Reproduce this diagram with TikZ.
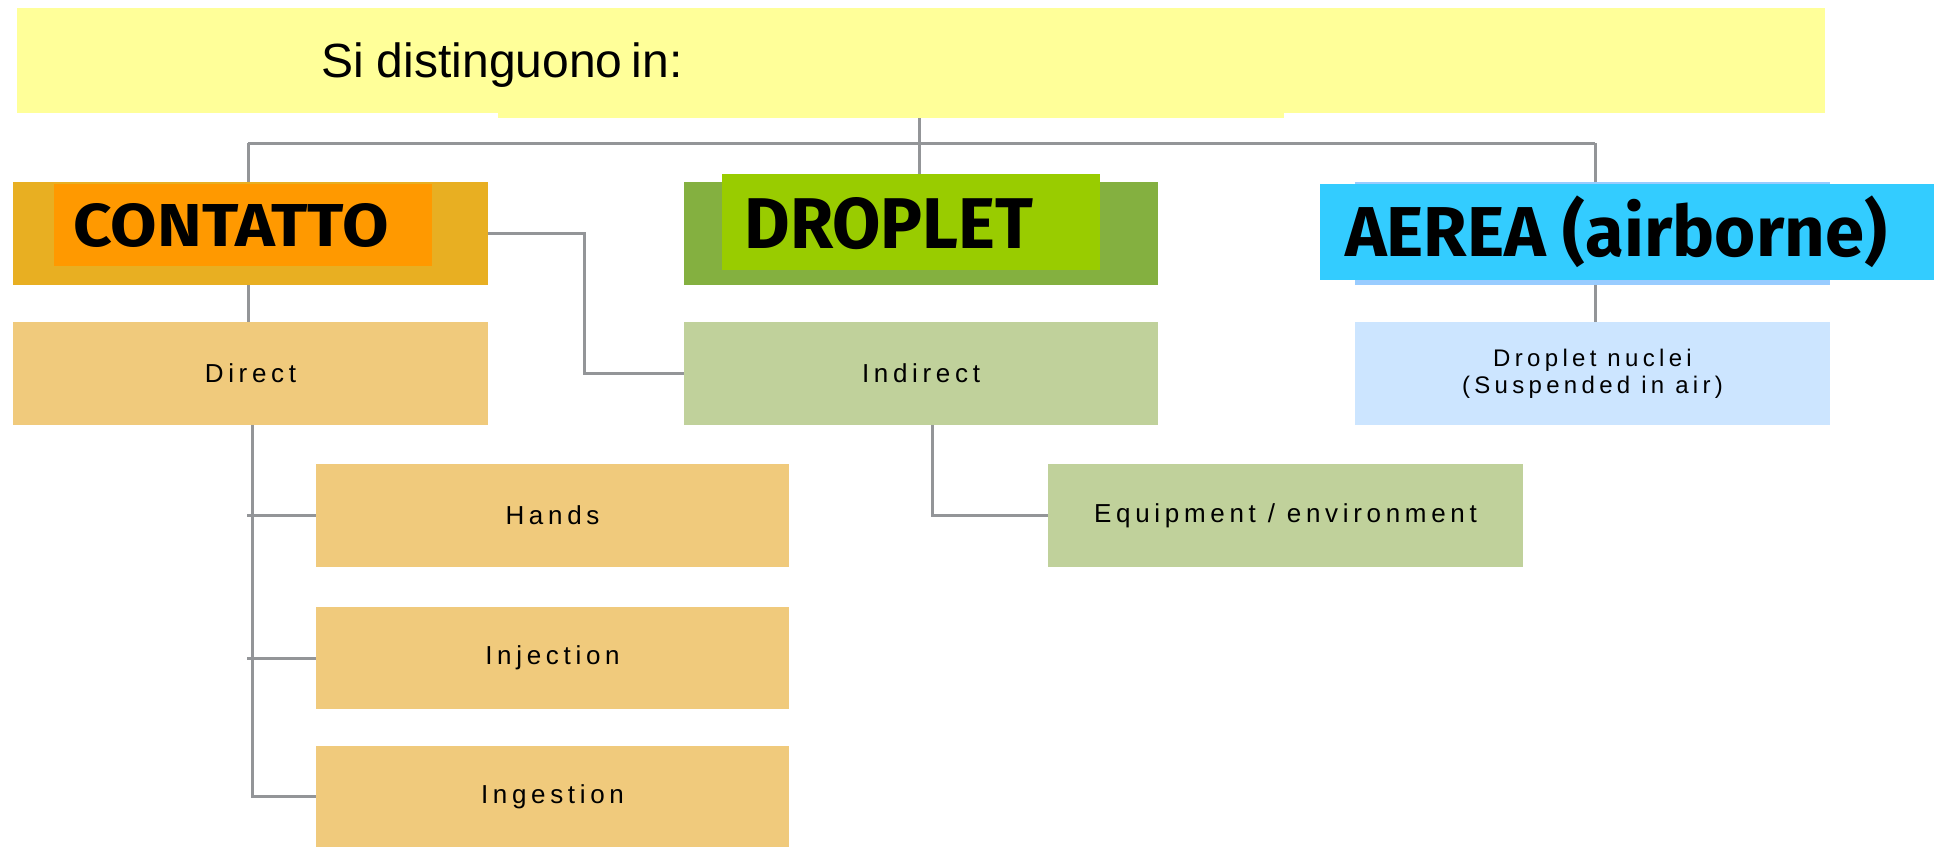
\documentclass[tikz,border=0pt]{standalone}
\usepackage{fontspec}
\setmainfont{Liberation Sans}
\newfontfamily\headfont{Fira Sans}
\newfontfamily\smallfont{Liberation Sans}[LetterSpace=18]
\usetikzlibrary{calc}
\definecolor{banner}{HTML}{FFFF99}
\definecolor{contout}{HTML}{E8AF22}
\definecolor{contin}{HTML}{FF9900}
\definecolor{dropout}{HTML}{84B040}
\definecolor{dropin}{HTML}{99CC00}
\definecolor{aerback}{HTML}{99CCFF}
\definecolor{aerfront}{HTML}{33CCFF}
\definecolor{tan}{HTML}{F0CA7C}
\definecolor{sage}{HTML}{C0D19B}
\definecolor{pale}{HTML}{CCE5FF}
\definecolor{conn}{HTML}{939598}
\begin{document}
\begin{tikzpicture}[x=1pt,y=-1pt,
  box/.style={rectangle,inner sep=0pt,outer sep=0pt,draw=none,align=center,
    font=\smallfont\fontsize{26}{29}\selectfont},
  head/.style={inner sep=0pt,outer sep=0pt},
  link/.style={draw=conn,line width=3pt}]
\useasboundingbox (0,0) rectangle (1934,847);
% banner
\node[box,fill=banner,minimum width=786pt,minimum height=10pt] (bannerext) at (891,113) {};
\node[box,fill=banner,minimum width=1808pt,minimum height=105pt] (banner) at (921,60.5) {};
\node[head,anchor=base west,font=\fontsize{48}{58}\selectfont] (title) at (321,77) {Si distinguono\hspace{-4pt} in:};
% header boxes
\node[box,fill=contout,minimum width=475pt,minimum height=103pt] (contOut) at (250.5,233.5) {};
\node[box,fill=contin,minimum width=378pt,minimum height=82pt] (contIn) at (243,225) {};
\node[box,fill=dropout,minimum width=474pt,minimum height=103pt] (dropOut) at (921,233.5) {};
\node[box,fill=dropin,minimum width=378pt,minimum height=96pt] (dropIn) at (911,222) {};
\node[box,fill=aerback,minimum width=475pt,minimum height=103pt] (aerBack) at (1592.5,233.5) {};
\node[box,fill=aerfront,minimum width=614pt,minimum height=96pt] (aerFront) at (1627,232) {};
\node[head,anchor=base] (contText) at (231,246) {\resizebox{315pt}{43pt}{\headfont\bfseries CONTATTO}};
\node[head,anchor=base] (dropText) at (889,248) {\resizebox{289pt}{51pt}{\headfont\bfseries DROPLET}};
\node[head,anchor=base] (aerText) at (1616,256) {\resizebox{542pt}{!}{\headfont\bfseries\fontsize{70}{80}\selectfont AEREA (airborne)}};
% second level
\node[box,fill=tan,minimum width=475pt,minimum height=103pt] (direct) at (250.5,373.5) {Direct};
\node[box,fill=sage,minimum width=474pt,minimum height=103pt] (indirect) at (921,373.5) {Indirect};
\node[box,fill=pale,minimum width=475pt,minimum height=103pt,font=\smallfont\fontsize{24}{27}\selectfont] (nuclei) at (1592.5,373.5) {Droplet nuclei\\(Suspended in air)};
% third level
\node[box,fill=tan,minimum width=473pt,minimum height=103pt] (hands) at (552.5,515.5) {Hands};
\node[box,fill=tan,minimum width=473pt,minimum height=102pt] (injection) at (552.5,658) {Injection};
\node[box,fill=tan,minimum width=473pt,minimum height=101pt] (ingestion) at (552.5,796.5) {Ingestion};
\node[box,fill=sage,minimum width=475pt,minimum height=103pt] (equip) at (1285.5,515.5) {Equipment / environment};
% connectors
\coordinate (busL) at (248,143);
\coordinate (busR) at (1595,143);
\draw[link] (bannerext.south -| 919,0) -- (dropIn.north -| 919,0);
\draw[link] (busL) -- (busR);
\draw[link] (busL) -- (contOut.north -| busL);
\draw[link] (busR) -- (aerBack.north -| busR);
\draw[link] (contOut.south -| busL) -- (direct.north -| busL);
\draw[link] (contOut.east) -- ++(96,0) |- (indirect.west);
\draw[link] ([xshift=1.5pt]direct.south) |- (ingestion.west);
\draw[link] ([xshift=-3.5pt]direct.south |- hands.west) -- (hands.west);
\draw[link] ([xshift=-3.5pt]direct.south |- injection.west) -- (injection.west);
\draw[link] ([xshift=11pt]indirect.south) |- (equip.west);
\draw[link] (aerBack.south -| busR) -- (nuclei.north -| busR);
\end{tikzpicture}
\end{document}
